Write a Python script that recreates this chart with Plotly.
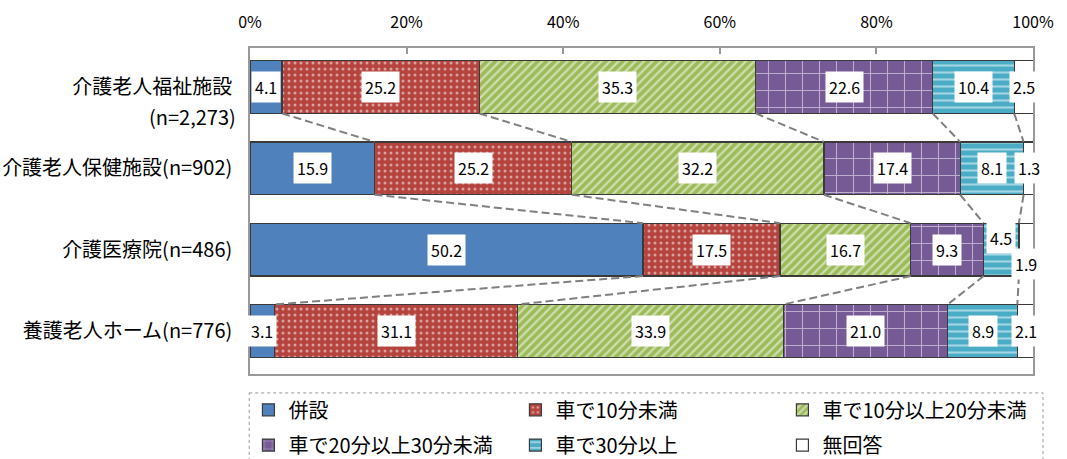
import plotly.graph_objects as go

# category labels (top to bottom); the sample size of the first one goes on a second line
categories = [
    "介護老人福祉施設",
    "介護老人保健施設(n=902)",
    "介護医療院(n=486)",
    "養護老人ホーム(n=776)",
]
first_sub_label = "(n=2,273)"

series_names = ["併設", "車で10分未満", "車で10分以上20分未満",
                "車で20分以上30分未満", "車で30分以上", "無回答"]

heisetsu = [4.1, 15.9, 50.2, 3.1]
under_10 = [25.2, 25.2, 17.5, 31.1]
from_10_to_20 = [35.3, 32.2, 16.7, 33.9]
from_20_to_30 = [22.6, 17.4, 9.3, 21.0]
over_30 = [10.4, 8.1, 4.5, 8.9]
no_answer = [2.5, 1.3, 1.9, 2.1]

tick_vals = [0, 20, 40, 60, 80, 100]
tick_text = ["0%", "20%", "40%", "60%", "80%", "100%"]

series_values = [heisetsu, under_10, from_10_to_20, from_20_to_30, over_30, no_answer]

FONT = "Noto Sans CJK JP"
BAR_W = 0.65
y_pos = list(range(len(categories)))

styles = [
    dict(color="#4F81BD", pattern=dict(shape="")),
    dict(color="#B5443F", pattern=dict(shape=".", bgcolor="#B5443F", fgcolor="white",
                                       size=6, solidity=0.2)),
    dict(color="#9BBB59", pattern=dict(shape="/", bgcolor="#9BBB59", fgcolor="white",
                                       size=6, solidity=0.4)),
    dict(color="#765A96", pattern=dict(shape="+", bgcolor="#765A96", fgcolor="white",
                                       size=17, solidity=0.12)),
    dict(color="#4BACC6", pattern=dict(shape="-", bgcolor="#4BACC6", fgcolor="white",
                                       size=7, solidity=0.3)),
    dict(color="white", pattern=dict(shape="")),
]

fig = go.Figure()

for k, (name, vals) in enumerate(zip(series_names, series_values)):
    st = styles[k]
    fig.add_trace(go.Bar(
        name=name,
        x=vals,
        y=y_pos,
        orientation="h",
        width=BAR_W,
        marker=dict(color=st["color"], pattern=st["pattern"],
                    line=dict(color="#3a3a3a", width=1.2)),
        legend="legend" if k < 3 else "legend2",
        hoverinfo="skip",
    ))

# cumulative boundaries for each bar
cum = []
for i in range(len(categories)):
    row = [0]
    for vals in series_values:
        row.append(row[-1] + vals[i])
    cum.append(row)

# dashed connector lines between neighbouring bars
cx, cy = [], []
for i in range(len(categories) - 1):
    for k in range(1, len(series_values)):
        cx += [cum[i][k], cum[i + 1][k], None]
        cy += [i + BAR_W / 2, i + 1 - BAR_W / 2, None]
fig.add_trace(go.Scatter(x=cx, y=cy, mode="lines", showlegend=False, hoverinfo="skip",
                         line=dict(color="#808080", width=2, dash="8px,4px")))

# value labels with white boxes
label_shift = {(4, 2): 12, (5, 2): -14}
for k, vals in enumerate(series_values):
    for i, v in enumerate(vals):
        fig.add_annotation(
            x=cum[i][k] + v / 2, y=i, text=f"{v:.1f}", showarrow=False,
            yshift=label_shift.get((k, i), 0),
            bgcolor="white", borderpad=3,
            font=dict(family=FONT, size=16, color="black"),
        )

# second line of the first category label
fig.add_annotation(x=0, xref="paper", y=y_pos[0], text=first_sub_label, showarrow=False,
                   xanchor="right", xshift=-12, yshift=-29,
                   font=dict(family=FONT, size=20, color="black"))

# dotted frame around the legend
fig.add_shape(type="rect", xref="paper", yref="paper",
              x0=-0.001, x1=1.0128, y0=-0.058, y1=-0.35,
              line=dict(color="#999999", width=1, dash="dot"))

legend_common = dict(orientation="h", xanchor="left", yanchor="middle", x=-0.002,
                     entrywidth=222, bgcolor="rgba(0,0,0,0)", traceorder="normal",
                     font=dict(family=FONT, size=20, color="black"))

fig.update_layout(
    width=1067, height=459,
    margin=dict(l=250, r=34, t=48, b=85, autoexpand=False),
    barmode="stack",
    paper_bgcolor="white", plot_bgcolor="white",
    font=dict(family=FONT, color="black"),
    legend=dict(y=-0.11, **legend_common),
    legend2=dict(y=-0.218, **legend_common),
    xaxis=dict(range=[0, 100], side="top", tickvals=tick_vals, ticktext=tick_text,
               ticks="inside", ticklen=6, tickcolor="#999999", tickwidth=1.5,
               showline=True, linecolor="#999999", linewidth=1.5, mirror=True,
               showgrid=False, zeroline=False, ticklabelstandoff=12, automargin=False,
               tickfont=dict(family=FONT, size=16, color="black")),
    yaxis=dict(range=[3.53, -0.48], tickvals=y_pos, ticktext=categories,
               showline=True, linecolor="#999999", linewidth=1.5, mirror=True,
               showgrid=False, zeroline=False, ticks="", ticklabelstandoff=12,
               automargin=False,
               tickfont=dict(family=FONT, size=20, color="black")),
)

# drop the browser's default 8px page margin so the figure sits at the corner
fig.write_html("out.html", config={"displayModeBar": False},
               post_script="document.body.style.margin='0';")
